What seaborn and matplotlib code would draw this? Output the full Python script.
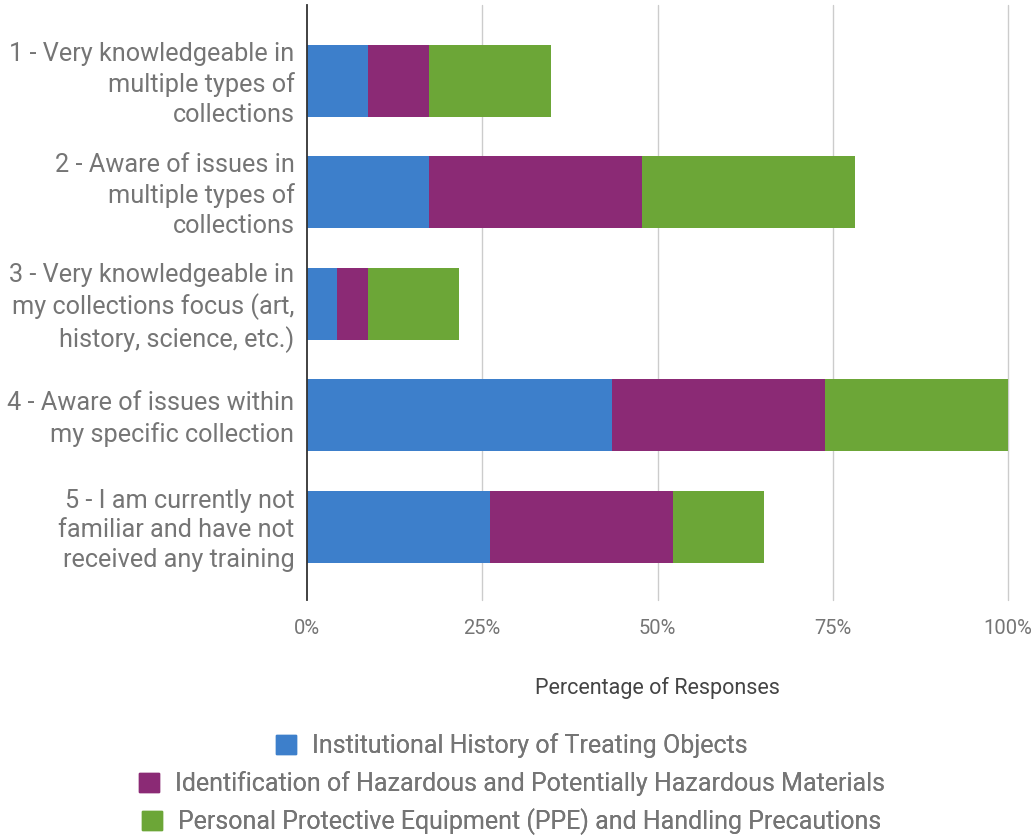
import matplotlib
matplotlib.use("Agg")
import matplotlib.pyplot as plt
import matplotlib.transforms as mtransforms
import seaborn as sns
import pandas as pd
import numpy as np
from matplotlib.patches import Patch

categories = [
    "1 - Very knowledgeable in\nmultiple types of\ncollections",
    "2 - Aware of issues in\nmultiple types of\ncollections",
    "3 - Very knowledgeable in\nmy collections focus (art,\nhistory, science, etc.)",
    "4 - Aware of issues within\nmy specific collection",
    "5 - I am currently not\nfamiliar and have not\nreceived any training",
]
series_names = [
    "Institutional History of Treating Objects",
    "Identification of Hazardous and Potentially Hazardous Materials",
    "Personal Protective Equipment (PPE) and Handling Precautions",
]
institutional = [8.7, 17.4, 4.35, 43.5, 26.1]
hazardous = [8.7, 30.4, 4.35, 30.4, 26.1]
ppe = [17.4, 30.4, 13.0, 26.1, 13.0]
colors = ["#3d7fcb", "#8b2a75", "#6ca637"]
xticks = [0, 25, 50, 75, 100]
xtick_labels = ["0%", "25%", "50%", "75%", "100%"]

sns.set_style("white")
plt.rcParams["font.family"] = ["Roboto", "DejaVu Sans"]

df = pd.DataFrame({"category": categories, "s1": institutional, "s2": hazardous, "s3": ppe})
df["c1"] = df["s1"]
df["c2"] = df["s1"] + df["s2"]
df["c3"] = df["c2"] + df["s3"]

fig = plt.figure(figsize=(10.35, 8.38), dpi=100)
ax = fig.add_axes([307 / 1035, 1 - 600 / 838, (1008 - 307) / 1035, 595 / 838])

for col, c in zip(["c3", "c2", "c1"], colors[::-1]):
    sns.barplot(data=df, y="category", x=col, color=c, orient="h", width=0.645,
                saturation=1, ax=ax, zorder=3, linewidth=0)

ax.set_xlim(0, 100)
ax.set_ylim(4.655, -0.68)
ax.set_xticks(xticks)
ax.set_xticklabels(xtick_labels)
ax.tick_params(axis="x", length=0, pad=14, labelsize=14.5, labelcolor="#757575")
ax.tick_params(axis="y", length=0, pad=9, labelsize=18.2, labelcolor="#757575")
shift = mtransforms.ScaledTranslation(0, 2 / 100, fig.dpi_scale_trans)
for lbl in ax.get_yticklabels():
    lbl.set_linespacing(1.31)
    lbl.set_transform(lbl.get_transform() + shift)
ax.set_ylabel("")
ax.set_xlabel("Percentage of Responses", fontsize=15.5, color="#444444", labelpad=28)
for s in ["top", "right", "bottom"]:
    ax.spines[s].set_visible(False)
ax.spines["left"].set_color("#333333")
ax.spines["left"].set_linewidth(1.3)
ax.spines["left"].set_zorder(5)
for x in xticks[1:]:
    ax.axvline(x, color="#cccccc", lw=1, zorder=1, clip_on=False)

rows_y = [746, 784, 822]
for name, c, y in zip(series_names, colors, rows_y):
    leg = fig.legend(handles=[Patch(facecolor=c, edgecolor=c)], labels=[name],
                     loc="center", bbox_to_anchor=(512 / 1035, 1 - y / 838),
                     frameon=False, fontsize=18, handlelength=0.8, handleheight=0.8,
                     handletextpad=0.64, borderpad=0, borderaxespad=0)
    for t in leg.get_texts():
        t.set_color("#757575")
    fig.add_artist(leg)

fig.savefig("out.png", dpi=100)
